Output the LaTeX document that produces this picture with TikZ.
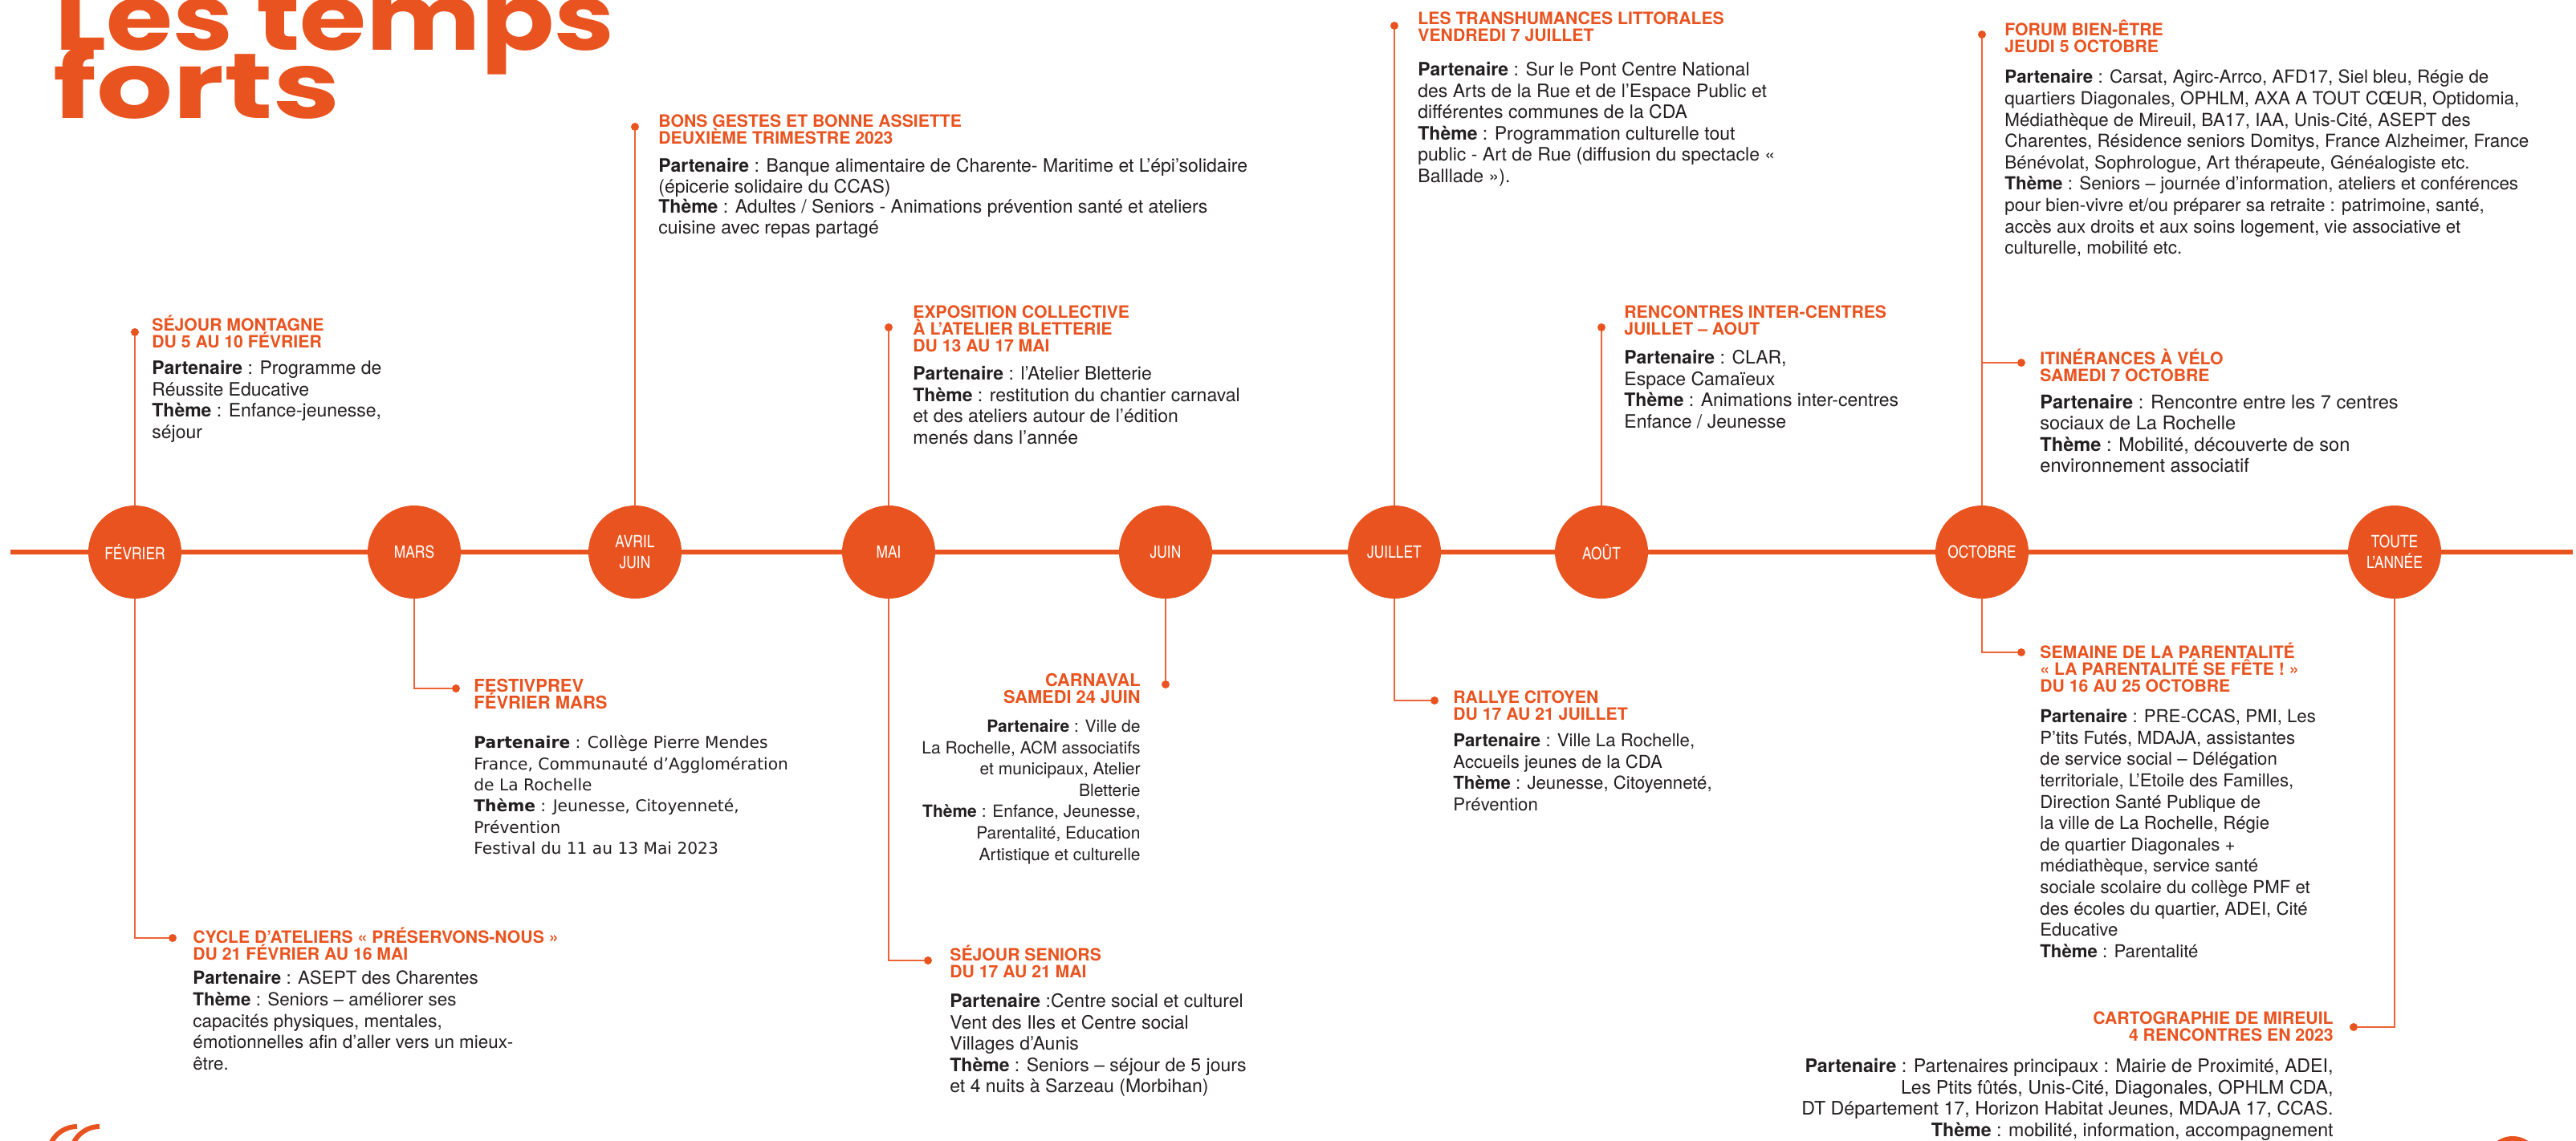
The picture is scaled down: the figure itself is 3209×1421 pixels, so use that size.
\documentclass[tikz,border=0pt]{standalone}
\usepackage{fontspec}
\usepackage{graphicx}
\setmainfont{texgyreheros}[Extension=.otf,UprightFont=*-regular,BoldFont=*-bold]
\newfontfamily\cnf{texgyreheroscn}[Extension=.otf,UprightFont=*-regular,BoldFont=*-bold]
\newfontfamily\hvf{texgyreheros}[Extension=.otf,UprightFont=*-regular,BoldFont=*-bold]
\newfontfamily\djf{DejaVu Sans}
\newfontfamily\dispf{Poppins}
\definecolor{orng}{HTML}{E9531F}
\definecolor{lnor}{HTML}{EC6436}
\definecolor{txt}{HTML}{231F20}
\newcommand\sx{\rule{0pt}{1em}}
\tikzset{
  month/.style={circle,fill=orng,minimum size=58pt,inner sep=0pt,text=white,align=center,
    font=\cnf\fontsize{10.6pt}{13pt}\selectfont},
  dotn/.style={circle,fill=orng,inner sep=0pt,minimum size=5pt},
  conn/.style={draw=lnor,line width=1pt},
  ttl/.style={anchor=north west,inner sep=0pt,text=orng,align=left,
    font=\hvf\bfseries\fontsize{10.6pt}{10.5pt}\selectfont},
  ttlr/.style={ttl,anchor=north east,align=right},
  bdy/.style={anchor=north west,inner sep=0pt,text=txt,align=left,
    font=\hvf\fontsize{#1}{13.3pt}\selectfont},
  bdy/.default=11.5pt,
  bdyr/.style={bdy=#1,anchor=north east,align=right},
  bdyr/.default=11.5pt,
}
\begin{document}
\begin{tikzpicture}[x=0.5pt,y=-0.5pt]
\useasboundingbox (0,0) rectangle (3209,1421);
% big title
\node[anchor=base west,inner sep=0pt,text=orng] (t1) at (68,62)
  {\raisebox{0pt}[\height][0pt]{\scalebox{1.17}[1]{\dispf\bfseries\fontsize{57.5pt}{60pt}\selectfont Les temps}}};
\node[anchor=base west,inner sep=0pt,text=orng] (t2) at (66,147)
  {\scalebox{1.3}[1]{\dispf\bfseries\fontsize{57.5pt}{60pt}\selectfont forts}};
% main line
\coordinate (L) at (13,688);
\coordinate (R) at (3205,688);
\draw[orng,line width=2.6pt] (L) -- (R);
% months
\node[month] (fev) at (168,688) {FÉVRIER};
\node[month] (mar) at (516,688) {MARS};
\node[month] (avr) at (791,688) {AVRIL\\JUIN};
\node[month] (mai) at (1107,688) {MAI};
\node[month] (juin) at (1452,688) {JUIN};
\node[month] (juil) at (1737,688) {JUILLET};
\node[month] (aout) at (1995,688) {AOÛT};
\node[month] (oct) at (2469,688) {OCTOBRE};
\node[month] (toute) at (2983,688) {TOUTE\\L’ANNÉE};
% dots
\node[dotn] (d1) at (168,414) {};
\node[dotn] (d2) at (791,158) {};
\node[dotn] (d3) at (1107,408) {};
\node[dotn] (d4) at (1737,32) {};
\node[dotn] (d5) at (1995,408) {};
\node[dotn] (d6) at (2469,43) {};
\node[dotn] (d7) at (2518,452) {};
\node[dotn] (d8) at (568,858) {};
\node[dotn] (d9) at (1452,853) {};
\node[dotn] (d10) at (1787,873) {};
\node[dotn] (d11) at (2518,813) {};
\node[dotn] (d12) at (2932,1280) {};
\node[dotn] (d13) at (215,1169) {};
\node[dotn] (d14) at (1156,1197) {};
% connectors
\draw[conn] (fev.north) -- (d1);
\draw[conn] (fev.south) |- (d13);
\draw[conn] (mar.south) |- (d8);
\draw[conn] (avr.north) -- (d2);
\draw[conn] (mai.north) -- (d3);
\draw[conn] (mai.south) |- (d14);
\draw[conn] (juin.south) -- (d9);
\draw[conn] (juil.north) -- (d4);
\draw[conn] (juil.south) |- (d10);
\draw[conn] (aout.north) -- (d5);
\draw[conn] (oct.north) -- (d6);
\draw[conn] (oct.north |- d7) -- (d7);
\draw[conn] (oct.south) |- (d11);
\draw[conn] (toute.south) |- (d12);
% cut-off marks at the bottom edge
\fill[orng] (3130,1450) circle[radius=17pt];
\draw[orng,line width=3pt] (60,1440) arc[start angle=180,end angle=90,radius=18pt];
\draw[orng,line width=3pt] (88,1440) arc[start angle=180,end angle=90,radius=18pt];
% E1
\node[ttl] (e1t) at (189,391) {\sx SÉJOUR MONTAGNE\\DU 5 AU 10 FÉVRIER};
\node[bdy] (e1b) at (189,443) {\sx\textbf{Partenaire} : Programme de\\Réussite Educative\\\textbf{Thème} : Enfance-jeunesse,\\séjour};
% E2
\node[ttl] (e2t) at (820,137) {\sx BONS GESTES ET BONNE ASSIETTE\\DEUXIÈME TRIMESTRE 2023};
\node[bdy,font=\hvf\fontsize{11.5pt}{12.85pt}\selectfont] (e2b) at (820,191) {\sx\textbf{Partenaire} : Banque alimentaire de Charente- Maritime et L’épi’solidaire\\(épicerie solidaire du CCAS)\\\textbf{Thème} : Adultes / Seniors - Animations prévention santé et ateliers\\cuisine avec repas partagé};
% E3
\node[ttl] (e3t) at (1137,375) {\sx EXPOSITION COLLECTIVE\\À L’ATELIER BLETTERIE\\DU 13 AU 17 MAI};
\node[bdy] (e3b) at (1137,450) {\sx\textbf{Partenaire} : l’Atelier Bletterie\\\textbf{Thème} : restitution du chantier carnaval\\et des ateliers autour de l’édition\\menés dans l’année};
% E4
\node[ttl] (e4t) at (1766,9) {\sx LES TRANSHUMANCES LITTORALES\\VENDREDI 7 JUILLET};
\node[bdy] (e4b) at (1766,71) {\sx\textbf{Partenaire} : Sur le Pont Centre National\\des Arts de la Rue et de l’Espace Public et\\différentes communes de la CDA\\\textbf{Thème} : Programmation culturelle tout\\public - Art de Rue (diffusion du spectacle «\\Balllade »).};
% E5
\node[ttl] (e5t) at (2023,375) {\sx RENCONTRES INTER-CENTRES\\JUILLET – AOUT};
\node[bdy] (e5b) at (2023,430) {\sx\textbf{Partenaire} : CLAR,\\Espace Camaïeux\\\textbf{Thème} : Animations inter-centres\\Enfance / Jeunesse};
% E6
\node[ttl] (e6t) at (2497,23) {\sx FORUM BIEN-ÊTRE\\JEUDI 5 OCTOBRE};
\node[bdy=11.2pt] (e6b) at (2497,81) {\sx\textbf{Partenaire} : Carsat, Agirc-Arrco, AFD17, Siel bleu, Régie de\\quartiers Diagonales, OPHLM, AXA A TOUT CŒUR, Optidomia,\\Médiathèque de Mireuil, BA17, IAA, Unis-Cité, ASEPT des\\Charentes, Résidence seniors Domitys, France Alzheimer, France\\Bénévolat, Sophrologue, Art thérapeute, Généalogiste etc.\\\textbf{Thème} : Seniors – journée d’information, ateliers et conférences\\pour bien-vivre et/ou préparer sa retraite : patrimoine, santé,\\accès aux droits et aux soins logement, vie associative et\\culturelle, mobilité etc.};
% E7
\node[ttl] (e7t) at (2541,433) {\sx ITINÉRANCES À VÉLO\\SAMEDI 7 OCTOBRE};
\node[bdy=11.8pt] (e7b) at (2541,485) {\sx\textbf{Partenaire} : Rencontre entre les 7 centres\\sociaux de La Rochelle\\\textbf{Thème} : Mobilité, découverte de son\\environnement associatif};
% E8
\node[ttl,font=\hvf\bfseries\fontsize{11pt}{10.6pt}\selectfont] (e8t) at (590,840) {\sx FESTIVPREV\\FÉVRIER MARS};
\node[bdy,font=\djf\fontsize{10.1pt}{13.2pt}\selectfont] (e8b) at (590,912) {\sx\textbf{Partenaire} : Collège Pierre Mendes\\France, Communauté d’Agglomération\\de La Rochelle\\\textbf{Thème} : Jeunesse, Citoyenneté,\\Prévention\\Festival du 11 au 13 Mai 2023};
% E9
\node[ttlr,font=\hvf\bfseries\fontsize{10.9pt}{10.6pt}\selectfont] (e9t) at (1421,833) {\sx CARNAVAL\\SAMEDI 24 JUIN};
\node[bdyr=10.5pt] (e9b) at (1421,891) {\sx\textbf{Partenaire} : Ville de\\La Rochelle, ACM associatifs\\et municipaux, Atelier\\Bletterie\\\textbf{Thème} : Enfance, Jeunesse,\\Parentalité, Education\\Artistique et culturelle};
% E10
\node[ttl] (e10t) at (1810,855) {\sx RALLYE CITOYEN\\DU 17 AU 21 JUILLET};
\node[bdy=11.1pt] (e10b) at (1810,908) {\sx\textbf{Partenaire} : Ville La Rochelle,\\Accueils jeunes de la CDA\\\textbf{Thème} : Jeunesse, Citoyenneté,\\Prévention};
% E11
\node[ttl] (e11t) at (2541,799) {\sx SEMAINE DE LA PARENTALITÉ\\« LA PARENTALITÉ SE FÊTE ! »\\DU 16 AU 25 OCTOBRE};
\node[bdy=11.1pt] (e11b) at (2541,878) {\sx\textbf{Partenaire} : PRE-CCAS, PMI, Les\\P’tits Futés, MDAJA, assistantes\\de service social – Délégation\\territoriale, L’Etoile des Familles,\\Direction Santé Publique de\\la ville de La Rochelle, Régie\\de quartier Diagonales +\\médiathèque, service santé\\sociale scolaire du collège PMF et\\des écoles du quartier, ADEI, Cité\\Educative\\\textbf{Thème} : Parentalité};
% E12
\node[ttlr] (e12t) at (2907,1255) {\sx CARTOGRAPHIE DE MIREUIL\\4 RENCONTRES EN 2023};
\node[bdyr=11.6pt] (e12b) at (2907,1313) {\sx\textbf{Partenaire} : Partenaires principaux : Mairie de Proximité, ADEI,\\Les Ptits fûtés, Unis-Cité, Diagonales, OPHLM CDA,\\DT Département 17, Horizon Habitat Jeunes, MDAJA 17, CCAS.\\\textbf{Thème} : mobilité, information, accompagnement};
% E13
\node[ttl] (e13t) at (240,1154) {\sx CYCLE D’ATELIERS « PRÉSERVONS-NOUS »\\DU 21 FÉVRIER AU 16 MAI};
\node[bdy=11.2pt] (e13b) at (240,1204) {\sx\textbf{Partenaire} : ASEPT des Charentes\\\textbf{Thème} : Seniors – améliorer ses\\capacités physiques, mentales,\\émotionnelles afin d’aller vers un mieux-\\être.};
% E14
\node[ttl] (e14t) at (1183,1176) {\sx SÉJOUR SENIORS\\DU 17 AU 21 MAI};
\node[bdy] (e14b) at (1183,1232) {\sx\textbf{Partenaire} :Centre social et culturel\\Vent des Iles et Centre social\\Villages d’Aunis\\\textbf{Thème} : Seniors – séjour de 5 jours\\et 4 nuits à Sarzeau (Morbihan)};
\end{tikzpicture}
\end{document}
